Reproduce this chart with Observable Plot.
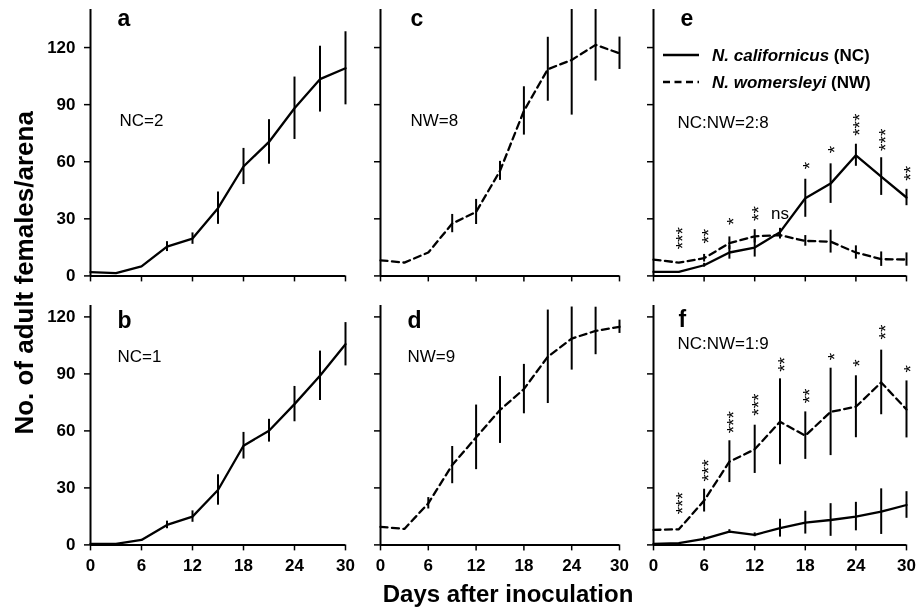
<!DOCTYPE html>
<html>
<head>
<meta charset="utf-8">
<script src="https://cdn.jsdelivr.net/npm/d3@7"></script>
<script src="https://cdn.jsdelivr.net/npm/@observablehq/plot@0.6"></script>
<style>
  body { margin: 0; background: #fff; }
  #fig { position: relative; width: 923px; height: 609px; overflow: hidden; background: #fff;
         font-family: "Liberation Sans", Arial, sans-serif; filter: grayscale(100%); }
  #fig svg { position: absolute; overflow: visible; background: transparent; }
</style>
</head>
<body>
<div id="fig"></div>
<script>
// ---------- data ----------
const days = [0, 3, 6, 9, 12, 15, 18, 21, 24, 27, 30];
const xTicks = [0, 6, 12, 18, 24, 30];
const yTicks = [0, 30, 60, 90, 120];

// a: NC=2
const aMean = [2, 1.5, 5, 15.4, 19.6, 35.6, 57.5, 70.4, 88.1, 103.4, 109.1];
const aErr  = [0, 0, 0, 2.6, 3, 8.5, 9.5, 11.7, 16.4, 17.3, 19.2];
// b: NC=1
const bMean = [0.5, 0.5, 2.6, 10.5, 14.9, 28.9, 52.2, 60.1, 74.1, 89, 105.6];
const bErr  = [0, 0, 0, 2, 3, 8, 7, 6, 9.3, 13, 11.4];
// c: NW=8
const cMean = [8.2, 7, 12.3, 27.5, 33.6, 55.2, 86.7, 108.6, 113.5, 121.4, 117];
const cErr  = [0, 0, 0, 4.8, 6.6, 5, 12.7, 16.8, 29, 19, 8.5];
// d: NW=9
const dMean = [9.5, 8.4, 21.9, 42, 56.6, 71, 82, 99, 108.6, 112.6, 114.8];
const dErr  = [0, 0, 3, 9.8, 17, 17.6, 13, 24.6, 16.6, 12.5, 3.5];
// e: NC:NW = 2:8
const eNcMean = [2.1, 2.1, 5.6, 12.3, 14.9, 23, 40.8, 48.5, 63.4, 52.2, 41.2];
const eNcErr  = [0, 0, 1, 3.5, 5, 2, 10, 10.4, 5.8, 9.9, 4.3];
const eNwMean = [8.6, 7, 9.3, 17.2, 20.8, 21.4, 18.4, 18, 12.3, 8.8, 8.6];
const eNwErr  = [0, 0, 2, 3.3, 3.5, 2, 2.8, 6, 3.5, 3.8, 3.5];
// f: NC:NW = 1:9
const fNcMean = [0.5, 0.9, 3.2, 7, 5.3, 8.8, 11.7, 13.1, 14.9, 17.5, 21];
const fNcErr  = [0, 0, 1, 1, 1, 4.7, 6, 8.6, 7.5, 12, 7];
const fNwMean = [7.9, 8.2, 23.3, 43.8, 50.3, 64.8, 57.5, 70, 72.7, 85.5, 71.3];
const fNwErr  = [0, 0, 6, 11, 12.7, 22.6, 12.5, 23, 16.3, 17, 15];

// significance labels
const sigDays = [3, 6, 9, 12, 15, 18, 21, 24, 27, 30];
const sigE  = ["***", "**", "*", "**", "ns", "*", "*", "***", "***", "**"];
const sigEY = [14, 17, 26.8, 28.9, 33, 56, 64.5, 73.6, 65.7, 50];
const sigF  = ["***", "***", "***", "***", "**", "**", "*", "*", "**", "*"];
const sigFY = [16.1, 33.3, 58.7, 68, 91.1, 74.5, 97.2, 93.7, 108.1, 90.7];

const yTitle = "No. of adult females/arena";
const xTitle = "Days after inoculation";
const legendNames = ["N. californicus", "N. womersleyi"];
const legendCodes = [" (NC)", " (NW)"];

// ---------- helpers ----------
const FONT = "Liberation Sans, Arial, sans-serif";
const series = (mean, err) => days.map((day, i) => ({day, mean: mean[i], err: err[i], lo: mean[i] - err[i], hi: mean[i] + err[i]}));
const sig = (labels, ys) => sigDays.map((day, i) => ({day, label: labels[i], y: ys[i]}));

const ML = 60, MR = 20, MT = 12, MB = 70;
const fig = document.getElementById("fig");

function seriesMarks(data, dashed, yMax) {
  return [
    Plot.ruleX(data.filter(d => d.err > 0), {x: "day", y1: "lo", y2: d => Math.min(d.hi, yMax),
      stroke: "black", strokeWidth: 2}),
    Plot.line(data, {x: "day", y: "mean", stroke: "black", strokeWidth: 2.3,
      strokeDasharray: dashed ? "7,4.5" : null})
  ];
}

// stacked asterisks: one text per label, turned so the stars run upward
function sigMarks(data) {
  const stars = data.filter(d => d.label !== "ns");
  const ns = data.filter(d => d.label === "ns");
  return [
    Plot.text(stars, {x: "day", y: "y", text: "label", rotate: -90, textAnchor: "start", lineAnchor: "middle",
      fontSize: 19, fontFamily: FONT, dx: 4.5, fill: "black"}),
    Plot.text(ns, {x: "day", y: "y", text: "label", lineAnchor: "middle",
      fontSize: 17, fontFamily: FONT, fill: "black"})
  ];
}

function label(text, dx, dy, size, weight) {
  return Plot.text([text], {frameAnchor: "top-left", textAnchor: "start", lineAnchor: "bottom",
    dx, dy, fontSize: size, fontWeight: weight, fontFamily: FONT, fill: "black"});
}

function panel({x0, x1, yZero, yMax, pxPerUnit, showX, showY, marks}) {
  const plotH = yMax * pxPerUnit;
  const yTop = yZero - plotH;
  const W = ML + (x1 - x0) + MR;
  const H = MT + plotH + MB;
  const svg = Plot.plot({
    width: W, height: H,
    marginLeft: ML, marginRight: MR, marginTop: MT, marginBottom: MB,
    x: {domain: [0, 30]},
    y: {domain: [0, yMax]},
    style: {fontFamily: FONT, fontSize: "17px", color: "black", background: "transparent", overflow: "visible"},
    marks: [
      Plot.axisY({ticks: yTicks, tickSize: 6, tickPadding: 9, strokeWidth: 1.5, label: null,
        tickFormat: showY ? (d => d) : (() => ""), fontSize: 17, fontWeight: "bold"}),
      Plot.axisX({ticks: xTicks, tickSize: 6, tickPadding: 8, strokeWidth: 1.5, label: null,
        tickFormat: showX ? (d => d) : (() => ""), fontSize: 17, fontWeight: "bold"}),
      Plot.ruleX([0], {stroke: "black", strokeWidth: 2}),
      Plot.ruleY([0], {stroke: "black", strokeWidth: 2}),
      ...marks(yTop, yMax)
    ]
  });
  svg.style.left = (x0 - ML) + "px";
  svg.style.top = (yTop - MT) + "px";
  fig.appendChild(svg);
}

// ---------- layout ----------
const colX = [[90, 345], [380, 619], [653, 906]];
const TOP = {yZero: 275, yMax: 140, pxPerUnit: 1.903};
const BOT = {yZero: 544, yMax: 126, pxPerUnit: 1.9};

// a
panel({x0: colX[0][0], x1: colX[0][1], ...TOP, showX: false, showY: true, marks: (yTop, yMax) => [
  ...seriesMarks(series(aMean, aErr), false, yMax),
  label("a", 117 - 90, 25 - yTop, 23, "bold"),
  label("NC=2", 119 - 90, 125 - yTop, 17, "normal")
]});
// c
panel({x0: colX[1][0], x1: colX[1][1], ...TOP, showX: false, showY: false, marks: (yTop, yMax) => [
  ...seriesMarks(series(cMean, cErr), true, yMax),
  label("c", 410 - 380, 25 - yTop, 23, "bold"),
  label("NW=8", 410 - 380, 125 - yTop, 17, "normal")
]});
// e
panel({x0: colX[2][0], x1: colX[2][1], ...TOP, showX: false, showY: false, marks: (yTop, yMax) => [
  ...seriesMarks(series(eNwMean, eNwErr), true, yMax),
  ...seriesMarks(series(eNcMean, eNcErr), false, yMax),
  ...sigMarks(sig(sigE, sigEY)),
  label("e", 680 - 653, 25 - yTop, 23, "bold"),
  label("NC:NW=2:8", 677 - 653, 127 - yTop, 17, "normal")
]});
// b
panel({x0: colX[0][0], x1: colX[0][1], ...BOT, showX: true, showY: true, marks: (yTop, yMax) => [
  ...seriesMarks(series(bMean, bErr), false, yMax),
  label("b", 117 - 90, 327 - yTop, 23, "bold"),
  label("NC=1", 117 - 90, 361 - yTop, 17, "normal"),
  Plot.text([yTitle], {frameAnchor: "left", rotate: -90, textAnchor: "middle", lineAnchor: "bottom",
    dx: 32 - 90, dy: 272 - (yTop + 544) / 2, fontSize: 26, fontWeight: "bold", fontFamily: FONT, fill: "black"})
]});
// d
panel({x0: colX[1][0], x1: colX[1][1], ...BOT, showX: true, showY: false, marks: (yTop, yMax) => [
  ...seriesMarks(series(dMean, dErr), true, yMax),
  label("d", 407 - 380, 327 - yTop, 23, "bold"),
  label("NW=9", 407 - 380, 361 - yTop, 17, "normal"),
  Plot.text([xTitle], {frameAnchor: "bottom", textAnchor: "middle", lineAnchor: "bottom",
    dx: 507.5 - (380 + 619) / 2, dy: 601 - 544, fontSize: 24, fontWeight: "bold", fontFamily: FONT, fill: "black"})
]});
// f
panel({x0: colX[2][0], x1: colX[2][1], ...BOT, showX: true, showY: false, marks: (yTop, yMax) => [
  ...seriesMarks(series(fNwMean, fNwErr), true, yMax),
  ...seriesMarks(series(fNcMean, fNcErr), false, yMax),
  ...sigMarks(sig(sigF, sigFY)),
  label("f", 678 - 653, 326 - yTop, 23, "bold"),
  label("NC:NW=1:9", 677 - 653, 348 - yTop, 17, "normal")
]});

// ---------- legend (panel e) ----------
const leg = d3.create("svg").attr("width", 260).attr("height", 70)
  .style("left", "655px").style("top", "38px");
const rowY = [17, 44];
leg.selectAll("line").data(rowY).join("line")
  .attr("x1", 8).attr("x2", 44).attr("y1", d => d).attr("y2", d => d)
  .attr("stroke", "black").attr("stroke-width", 2.3)
  .attr("stroke-dasharray", (d, i) => i ? "7,4.5" : null);
const t = leg.selectAll("text").data(rowY).join("text")
  .attr("x", 57).attr("y", d => d + 6)
  .attr("font-family", FONT).attr("font-size", 17).attr("font-weight", "bold");
t.append("tspan").attr("font-style", "italic").text((d, i) => legendNames[i]);
t.append("tspan").text((d, i) => legendCodes[i]);
fig.appendChild(leg.node());
</script>
</body>
</html>
